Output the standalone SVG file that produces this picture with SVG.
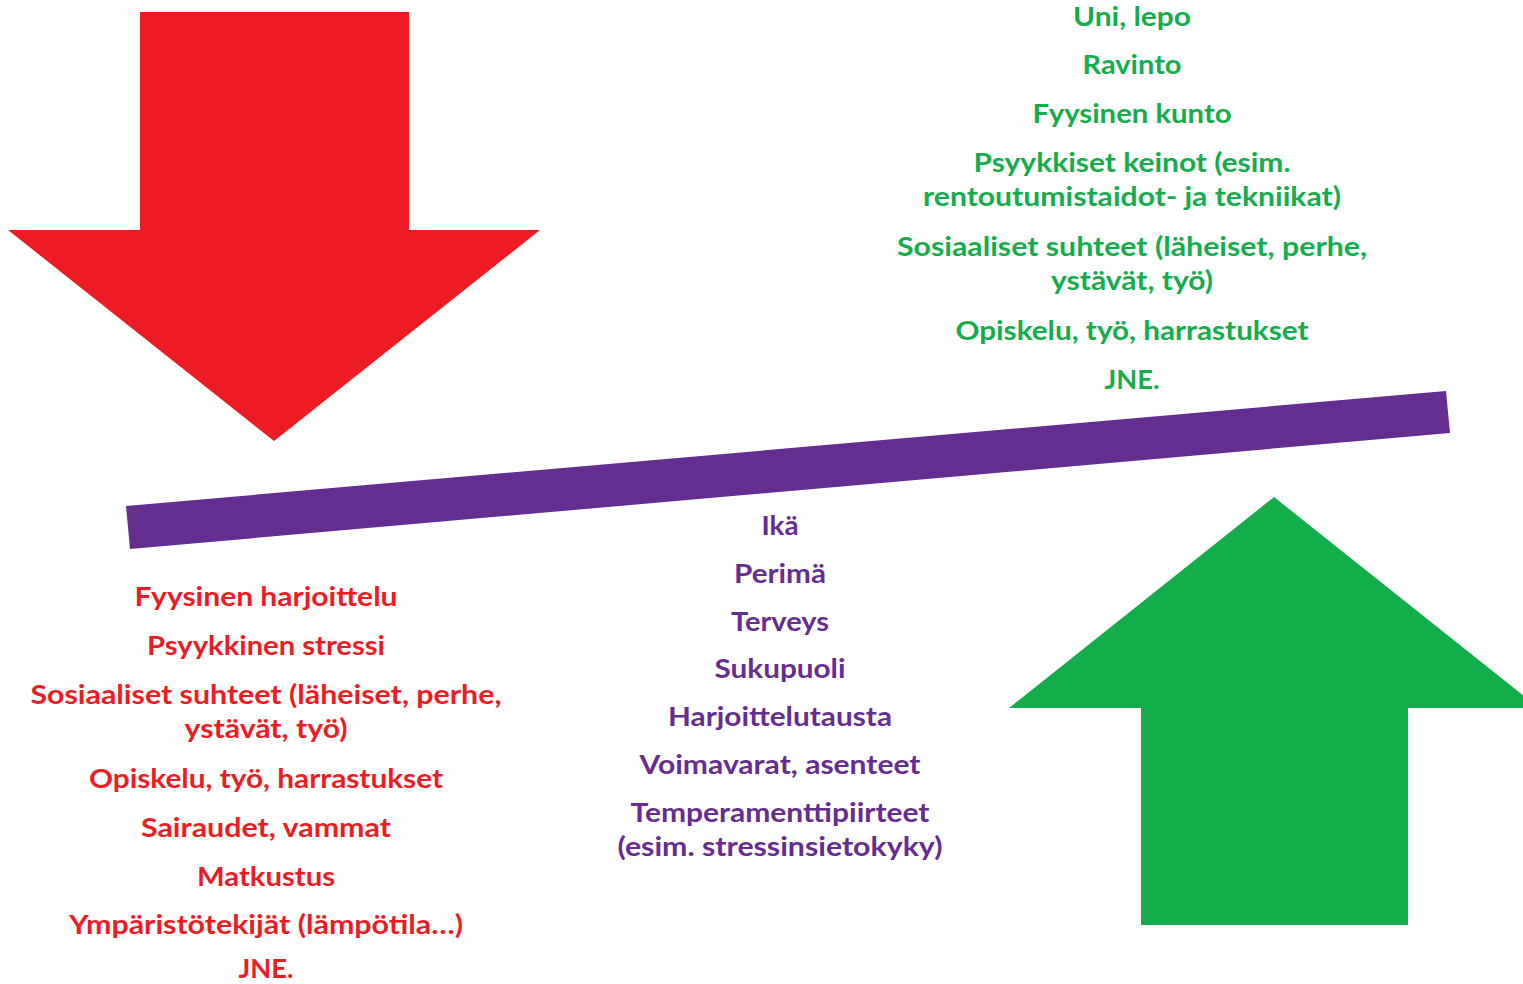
<svg xmlns="http://www.w3.org/2000/svg" width="1523" height="984" viewBox="0 0 1523 984">
<style>
text{font-family:Lato,"Open Sans","Liberation Sans",sans-serif;font-weight:bold;font-size:27px;text-anchor:middle}
.g{fill:#14AD4C}.r{fill:#ED1C24}.p{fill:#662D91}
</style>
<rect width="1523" height="984" fill="#fff"/>
<g id="red-arrow"><polygon class="r" points="140,12 409,12 409,230 540,230 274,441 8,230 140,230"/></g>
<g id="green-arrow"><polygon class="g" points="1274,497 1539,708 1408,708 1408,925 1141,925 1141,708 1009,708"/></g>
<g id="beam"><polygon class="p" points="126,506 1446,391 1450,433 130,549"/></g>
<g id="green-text" class="g">
<text x="1132" y="26" textLength="118" lengthAdjust="spacingAndGlyphs">Uni, lepo</text>
<text x="1132" y="74" textLength="99" lengthAdjust="spacingAndGlyphs">Ravinto</text>
<text x="1132" y="123" textLength="199" lengthAdjust="spacingAndGlyphs">Fyysinen kunto</text>
<text x="1132" y="172" textLength="317" lengthAdjust="spacingAndGlyphs">Psyykkiset keinot (esim.</text>
<text x="1132" y="206" textLength="418" lengthAdjust="spacingAndGlyphs">rentoutumistaidot- ja tekniikat)</text>
<text x="1132" y="256" textLength="470" lengthAdjust="spacingAndGlyphs">Sosiaaliset suhteet (läheiset, perhe,</text>
<text x="1132" y="290" textLength="162" lengthAdjust="spacingAndGlyphs">ystävät, työ)</text>
<text x="1132" y="340" textLength="353" lengthAdjust="spacingAndGlyphs">Opiskelu, työ, harrastukset</text>
<text x="1132" y="389" textLength="55" lengthAdjust="spacingAndGlyphs">JNE.</text>
</g>
<g id="red-text" class="r">
<text x="266" y="606" textLength="263" lengthAdjust="spacingAndGlyphs">Fyysinen harjoittelu</text>
<text x="266" y="655" textLength="238" lengthAdjust="spacingAndGlyphs">Psyykkinen stressi</text>
<text x="266" y="704" textLength="471" lengthAdjust="spacingAndGlyphs">Sosiaaliset suhteet (läheiset, perhe,</text>
<text x="266" y="738" textLength="163" lengthAdjust="spacingAndGlyphs">ystävät, työ)</text>
<text x="266" y="788" textLength="354" lengthAdjust="spacingAndGlyphs">Opiskelu, työ, harrastukset</text>
<text x="266" y="837" textLength="250" lengthAdjust="spacingAndGlyphs">Sairaudet, vammat</text>
<text x="266" y="886" textLength="138" lengthAdjust="spacingAndGlyphs">Matkustus</text>
<text x="266" y="934" textLength="394" lengthAdjust="spacingAndGlyphs">Ympäristötekijät (lämpötila…)</text>
<text x="266" y="978" textLength="55" lengthAdjust="spacingAndGlyphs">JNE.</text>
</g>
<g id="purple-text" class="p">
<text x="780" y="535" textLength="37" lengthAdjust="spacingAndGlyphs">Ikä</text>
<text x="780" y="583" textLength="92" lengthAdjust="spacingAndGlyphs">Perimä</text>
<text x="780" y="631" textLength="98" lengthAdjust="spacingAndGlyphs">Terveys</text>
<text x="780" y="678" textLength="131" lengthAdjust="spacingAndGlyphs">Sukupuoli</text>
<text x="780" y="726" textLength="224" lengthAdjust="spacingAndGlyphs">Harjoittelutausta</text>
<text x="780" y="774" textLength="281" lengthAdjust="spacingAndGlyphs">Voimavarat, asenteet</text>
<text x="780" y="822" textLength="299" lengthAdjust="spacingAndGlyphs">Temperamenttipiirteet</text>
<text x="780" y="856" textLength="325" lengthAdjust="spacingAndGlyphs">(esim. stressinsietokyky)</text>
</g>
</svg>
